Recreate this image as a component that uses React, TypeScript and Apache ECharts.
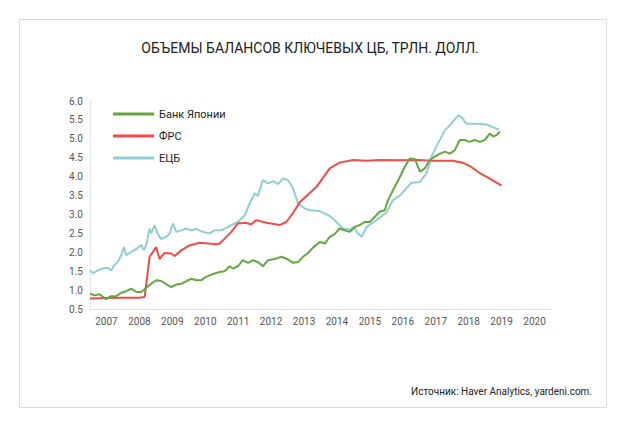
import React, { useEffect, useRef } from "react";
import * as echarts from "echarts";

const TITLE = "ОБЪЕМЫ БАЛАНСОВ КЛЮЧЕВЫХ ЦБ, ТРЛН. ДОЛЛ.";
const SOURCE = "Источник: Haver Analytics, yardeni.com.";
const seriesNames = ["Банк Японии", "ФРС", "ЕЦБ"];
const years = ["2007", "2008", "2009", "2010", "2011", "2012", "2013", "2014", "2015", "2016", "2017", "2018", "2019", "2020"];

// [decimal year, trillion USD]
const boj: [number, number][] = [
  [2007.0, 0.91], [2007.13, 0.86], [2007.29, 0.89], [2007.49, 0.76], [2007.64, 0.84], [2007.8, 0.84],
  [2007.95, 0.93], [2008.1, 0.97], [2008.25, 1.04], [2008.41, 0.95], [2008.56, 0.95], [2008.71, 1.06],
  [2008.86, 1.17], [2009.01, 1.26], [2009.17, 1.24], [2009.32, 1.15], [2009.47, 1.08], [2009.62, 1.15],
  [2009.78, 1.17], [2009.93, 1.24], [2010.08, 1.3], [2010.23, 1.26], [2010.38, 1.26], [2010.48, 1.33],
  [2010.63, 1.39], [2010.78, 1.44], [2010.93, 1.48], [2011.09, 1.5], [2011.24, 1.63], [2011.34, 1.57],
  [2011.49, 1.63], [2011.64, 1.79], [2011.8, 1.72], [2011.95, 1.79], [2012.1, 1.74], [2012.25, 1.63],
  [2012.41, 1.79], [2012.61, 1.82], [2012.81, 1.88], [2012.97, 1.83], [2013.17, 1.72], [2013.32, 1.74],
  [2013.47, 1.88], [2013.62, 1.98], [2013.78, 2.13], [2013.98, 2.27], [2014.13, 2.23], [2014.28, 2.41],
  [2014.43, 2.48], [2014.58, 2.63], [2014.73, 2.58], [2014.89, 2.54], [2015.04, 2.67], [2015.19, 2.72],
  [2015.34, 2.8], [2015.49, 2.8], [2015.65, 2.94], [2015.8, 3.07], [2015.95, 3.11], [2016.05, 3.38],
  [2016.2, 3.64], [2016.41, 3.99], [2016.56, 4.26], [2016.71, 4.48], [2016.87, 4.46], [2017.02, 4.13],
  [2017.17, 4.22], [2017.32, 4.44], [2017.47, 4.53], [2017.63, 4.61], [2017.78, 4.66], [2017.93, 4.61],
  [2018.08, 4.7], [2018.23, 4.97], [2018.38, 4.97], [2018.53, 4.92], [2018.68, 4.97], [2018.84, 4.92],
  [2018.99, 4.97], [2019.14, 5.14], [2019.24, 5.06], [2019.35, 5.1], [2019.45, 5.19],
];

const fed: [number, number][] = [
  [2007.0, 0.78], [2007.5, 0.79], [2008.0, 0.8], [2008.5, 0.8], [2008.66, 0.82], [2008.81, 1.88],
  [2009.01, 2.14], [2009.11, 1.82], [2009.26, 1.98], [2009.47, 1.97], [2009.57, 1.9], [2009.77, 2.05],
  [2010.02, 2.18], [2010.33, 2.25], [2010.84, 2.21], [2010.94, 2.23], [2011.09, 2.36], [2011.29, 2.54],
  [2011.49, 2.76], [2011.7, 2.78], [2011.9, 2.74], [2012.05, 2.85], [2012.36, 2.78], [2012.76, 2.72],
  [2012.96, 2.8], [2013.16, 3.03], [2013.37, 3.32], [2013.88, 3.73], [2014.28, 4.22], [2014.58, 4.37],
  [2014.99, 4.44], [2015.39, 4.42], [2015.8, 4.44], [2016.4, 4.43], [2017.0, 4.44], [2017.41, 4.42],
  [2018.02, 4.42], [2018.32, 4.37], [2018.54, 4.28], [2018.84, 4.09], [2019.14, 3.95], [2019.5, 3.76],
];

const ecb: [number, number][] = [
  [2007.0, 1.52], [2007.09, 1.45], [2007.24, 1.52], [2007.39, 1.57], [2007.54, 1.59], [2007.64, 1.52],
  [2007.74, 1.66], [2007.84, 1.74], [2007.95, 1.92], [2008.03, 2.14], [2008.1, 1.92], [2008.25, 2.01],
  [2008.4, 2.08], [2008.56, 2.19], [2008.64, 2.05], [2008.72, 2.23], [2008.81, 2.63], [2008.86, 2.5],
  [2008.96, 2.72], [2009.05, 2.5], [2009.16, 2.35], [2009.32, 2.41], [2009.42, 2.5], [2009.52, 2.76],
  [2009.62, 2.54], [2009.77, 2.58], [2009.92, 2.63], [2010.08, 2.58], [2010.23, 2.62], [2010.38, 2.55],
  [2010.63, 2.5], [2010.78, 2.58], [2010.99, 2.58], [2011.19, 2.67], [2011.49, 2.8], [2011.7, 2.98],
  [2011.85, 3.29], [2012.0, 3.56], [2012.1, 3.49], [2012.25, 3.91], [2012.4, 3.82], [2012.56, 3.88],
  [2012.71, 3.8], [2012.86, 3.95], [2013.01, 3.91], [2013.16, 3.7], [2013.32, 3.29], [2013.52, 3.16],
  [2013.67, 3.11], [2013.98, 3.09], [2014.28, 2.96], [2014.48, 2.8], [2014.68, 2.63], [2014.89, 2.6],
  [2015.01, 2.67], [2015.13, 2.5], [2015.25, 2.41], [2015.4, 2.67], [2015.7, 2.85], [2016.0, 3.05],
  [2016.2, 3.38], [2016.41, 3.5], [2016.61, 3.69], [2016.76, 3.84], [2017.02, 3.86], [2017.22, 4.09],
  [2017.37, 4.53], [2017.57, 4.88], [2017.78, 5.23], [2017.93, 5.36], [2018.18, 5.62], [2018.28, 5.58],
  [2018.43, 5.4], [2018.74, 5.4], [2019.04, 5.38], [2019.24, 5.31], [2019.42, 5.24],
];

const colors = ["#62a83f", "#f04a4a", "#8fcfd2"];

export default function App() {
  const ref = useRef<HTMLDivElement>(null);
  useEffect(() => {
    if (!ref.current) return;
    const chart = echarts.init(ref.current, null, { renderer: "svg" });
    const font = "Roboto";
    chart.setOption({
      animation: false,
      backgroundColor: "#ffffff",
      textStyle: { fontFamily: font },
      title: {
        text: TITLE,
        left: "center",
        top: 36,
        textStyle: { fontSize: 14, fontWeight: "normal", color: "#222", fontFamily: font },
      },
      legend: {
        orient: "vertical",
        left: 108,
        top: 102,
        icon: "rect",
        itemWidth: 41,
        itemHeight: 3,
        itemGap: 8,
        data: seriesNames,
        textStyle: { fontSize: 11, color: "#222", lineHeight: 14, fontFamily: font },
      },
      grid: { left: 90, top: 101, right: 69, bottom: 121, containLabel: false },
      xAxis: [
        {
          type: "value",
          min: 2007,
          max: 2021,
          show: false,
        },
        {
          type: "category",
          data: years,
          boundaryGap: true,
          position: "bottom",
          axisLine: { show: true, lineStyle: { color: "#dddddd", width: 1 } },
          axisTick: { show: false },
          axisLabel: { color: "#555", fontSize: 10, margin: 7, fontFamily: font },
          splitLine: { show: false },
        },
      ],
      yAxis: {
        type: "value",
        min: 0.5,
        max: 6,
        interval: 0.5,
        axisLine: { show: true, lineStyle: { color: "#e6e6e6" } },
        axisTick: { show: false },
        splitLine: { show: false },
        axisLabel: {
          color: "#555",
          fontSize: 10,
          margin: 7,
          fontFamily: font,
          formatter: (v: number) => v.toFixed(1),
        },
      },
      series: [
        { name: seriesNames[2], type: "line", data: ecb, xAxisIndex: 0, symbol: "none", lineStyle: { color: colors[2], width: 2 }, itemStyle: { color: colors[2] }, z: 2 },
        { name: seriesNames[1], type: "line", data: fed, xAxisIndex: 0, symbol: "none", lineStyle: { color: colors[1], width: 2 }, itemStyle: { color: colors[1] }, z: 3 },
        { name: seriesNames[0], type: "line", data: boj, xAxisIndex: 0, symbol: "none", lineStyle: { color: colors[0], width: 2 }, itemStyle: { color: colors[0] }, z: 4 },
      ],
      graphic: [
        {
          type: "rect",
          shape: { x: 19.5, y: 19.5, width: 587, height: 388 },
          style: { fill: "none", stroke: "#dcdcdc", lineWidth: 1 },
          silent: true,
        },
        {
          type: "text",
          x: 592,
          y: 391,
          style: {
            text: SOURCE,
            fill: "#222",
            fontSize: 10,
            fontFamily: font,
            align: "right",
            verticalAlign: "middle",
          },
        },
      ],
    });
    return () => chart.dispose();
  }, []);
  return (
    <div
      ref={ref}
      style={{ position: "fixed", left: 0, top: 0, width: 620, height: 430, background: "#fff" }}
    />
  );
}
